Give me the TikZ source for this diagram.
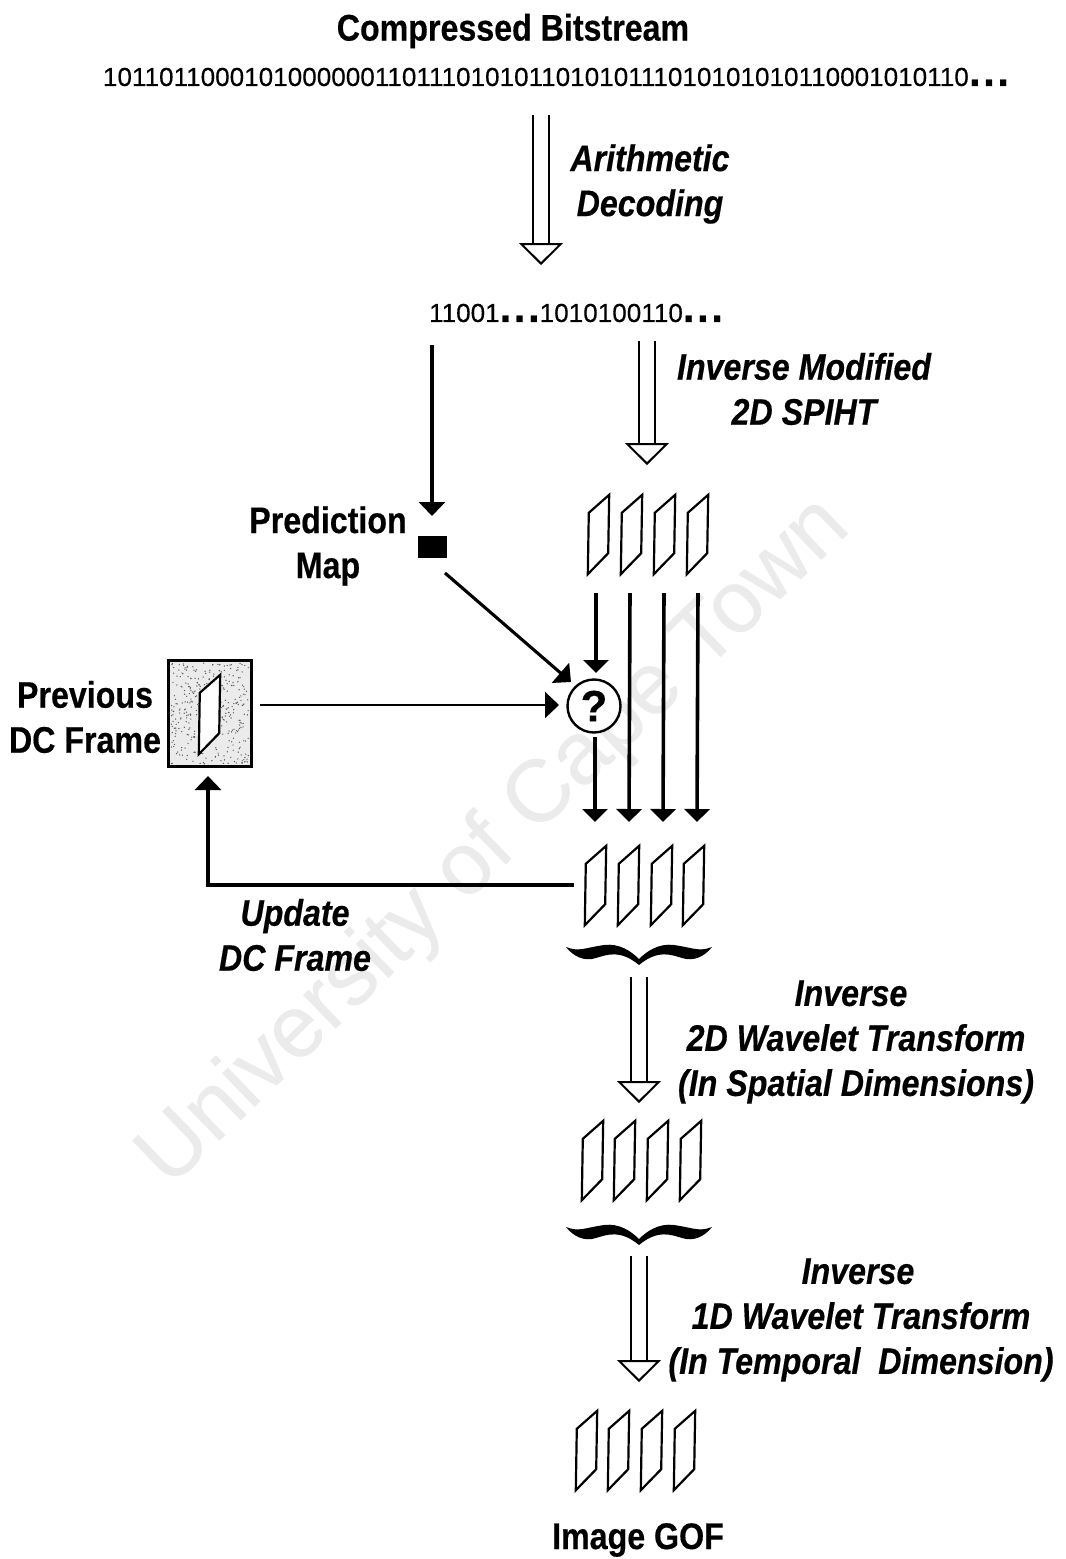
\documentclass[tikz,border=0pt]{standalone}
\usepackage{fontspec}
\setmainfont[FakeBold=0.25]{Liberation Sans}
\newfontfamily\lbl[FakeStretch=0.87,FakeBold=0.4]{Liberation Sans}
\usetikzlibrary{arrows.meta,calc}
\tikzset{
  boldlab/.style={font=\lbl\bfseries\fontsize{37}{45}\selectfont,align=center,inner sep=0pt,text=black},
  itlab/.style={font=\lbl\bfseries\itshape\fontsize{37}{45}\selectfont,align=center,inner sep=0pt,text=black},
  digits/.style={font=\fontsize{26.1}{30}\selectfont,inner sep=0pt,text=black},
  frm/.style={inner sep=0pt,minimum width=21pt,minimum height=79pt},
  frmline/.style={draw=black,line width=2.2pt,line join=miter,fill=white},
  heavy/.style={draw=black,line width=3.6pt,-{Triangle[length=13pt,width=25pt]}},
  medium/.style={draw=black,line width=3.1pt,-{Triangle[length=14pt,width=26pt]}},
  slim/.style={draw=black,line width=2.5pt,-{Triangle[length=14pt,width=26pt]}},
  hollow/.style={draw=black,line width=2pt,double=white,double distance=14pt,
    -{Triangle[fill=white,line width=2pt,length=22pt,width=44pt]}},
  brc/.style={fill=black,draw=none},
  watermark/.style={font=\fontsize{88}{88}\selectfont,text=black!8,rotate=44,inner sep=0pt}
}
\newcommand{\frmshape}[3]{%
  \node[frm] (#1) at (#2+10.5,#3-39.5) {};
  \draw[frmline] (#1.south west) -- ([shift={(1pt,-18pt)}]#1.north west) -- (#1.north east)
    -- ([shift={(-1pt,21pt)}]#1.south east) -- cycle;}
\newcommand{\bracedraw}[3]{%
  \coordinate (#1) at (#2,#3);
  \fill[brc] ($(#1)+(-73,-18)$) .. controls ($(#1)+(-66,-9)$) and ($(#1)+(-55,-3)$) .. ($(#1)+(-43,-7)$)
    .. controls ($(#1)+(-33,-10)$) and ($(#1)+(-19,-16)$) .. ($(#1)+(0,0)$)
    .. controls ($(#1)+(19,-16)$) and ($(#1)+(33,-10)$) .. ($(#1)+(43,-7)$)
    .. controls ($(#1)+(55,-3)$) and ($(#1)+(66,-9)$) .. ($(#1)+(73,-18)$)
    .. controls ($(#1)+(60,-13)$) and ($(#1)+(55,-17)$) .. ($(#1)+(35,-20)$)
    .. controls ($(#1)+(20,-22)$) and ($(#1)+(8,-14)$) .. ($(#1)+(0,-6)$)
    .. controls ($(#1)+(-8,-14)$) and ($(#1)+(-20,-22)$) .. ($(#1)+(-35,-20)$)
    .. controls ($(#1)+(-55,-17)$) and ($(#1)+(-60,-13)$) .. cycle;}
\newcommand{\tdots}{{\bfseries\fontsize{42}{30}\selectfont.\kern2.5pt.\kern2.5pt.}}
\begin{document}
\begin{tikzpicture}[x=1pt,y=-1pt]
\useasboundingbox (0,0) rectangle (1066,1559);
\fill[white] (0,0) rectangle (1066,1559);
\node[watermark] (wm) at (495,843) {University of Cape Town};

% texts
\node[boldlab] (title) at (513,31) {Compressed Bitstream};
\node[digits] (bits) at (556,77) {1011011000101000000110111010101101010111010101010110001010110\tdots};
\node[itlab] (arith) at (650,184) {Arithmetic\\Decoding};
\node[digits] (dec) at (576,313) {11001\tdots1010100110\tdots};
\node[itlab] (spiht) at (804,389) {Inverse Modified\\2D SPIHT};
\node[boldlab] (pmlabel) at (328,546) {Prediction\\Map};
\node[boldlab] (prevlabel) at (85,717) {Previous\\DC Frame};
\node[itlab] (updlabel) at (295,935) {Update\\DC Frame};
\node[itlab] (wt2d) at (856,1042) {\kern-10pt Inverse\\2D Wavelet Transform\\(In Spatial Dimensions)};
\node[itlab] (wt1d) at (861,1320) {\kern-6pt Inverse\\1D Wavelet Transform\\(In Temporal\ \ Dimension)};
\node[boldlab] (gof) at (638,1540) {Image GOF};

% frame groups
\frmshape{a1}{588}{574}\frmshape{a2}{621}{574}\frmshape{a3}{654}{574}\frmshape{a4}{687}{574}
\frmshape{b1}{585}{925}\frmshape{b2}{618}{925}\frmshape{b3}{651}{925}\frmshape{b4}{683}{925}
\frmshape{c1}{582}{1200}\frmshape{c2}{614}{1200}\frmshape{c3}{647}{1200}\frmshape{c4}{680}{1200}
\frmshape{d1}{576}{1490}\frmshape{d2}{608}{1490}\frmshape{d3}{641}{1490}\frmshape{d4}{674}{1490}

% previous DC frame box
\node[draw=black,line width=2.8pt,fill=black!8,inner sep=0pt,minimum width=83pt,minimum height=106pt] (prev) at (210,713.5) {};
\pgfmathsetseed{11}
\foreach \i in {1,...,380}{\fill[black!65] ({171+78*rnd},{663+101*rnd}) circle (0.7);}
\frmshape{pf}{199}{754}

% prediction map
\node[fill=black,inner sep=0pt,minimum width=29pt,minimum height=22pt] (pm) at (432.5,547) {};

% question node
\node[circle,draw=black,line width=2.4pt,fill=white,inner sep=0pt,minimum size=53pt,font=\bfseries\fontsize{44}{44}\selectfont] (q) at (594,706) {?};

% brace
\bracedraw{br1}{639}{965}
\bracedraw{br2}{639}{1245}

% connector end points
\coordinate (h1s) at (541,115); \coordinate (h1e) at (541,265);
\coordinate (h2s) at (647,341); \coordinate (h2e) at (647,465);
\coordinate (h3s) at (639,977); \coordinate (h3e) at (639,1103);
\coordinate (h4s) at (639,1256); \coordinate (h4e) at (639,1382);
\coordinate (pms) at (432,345); \coordinate (pme) at (432,516);
\coordinate (diags) at (445,573); \coordinate (diage) at (571,682);
\coordinate (hs) at (260,705); \coordinate (he) at (559,705);
\coordinate (q1s) at (596,593); \coordinate (q1e) at (596,673);
\coordinate (q2s) at (595,737); \coordinate (q2e) at (595,822);
\coordinate (l2s) at (630,593); \coordinate (l2e) at (629,822);
\coordinate (l3s) at (664,593); \coordinate (l3e) at (663,822);
\coordinate (l4s) at (698,593); \coordinate (l4e) at (697,822);
\coordinate (fbs) at (574,885); \coordinate (fbc) at (208,885); \coordinate (fbe) at (208,776);

% connectors
\draw[hollow] (h1s) -- (h1e);
\draw[hollow] (h2s) -- (h2e);
\draw[hollow] (h3s) -- (h3e);
\draw[hollow] (h4s) -- (h4e);
\draw[medium] (pms) -- (pme);
\draw[medium] (diags) -- (diage);
\draw[slim] (hs) -- (he);
\draw[heavy] (q1s) -- (q1e);
\draw[heavy] (q2s) -- (q2e);
\draw[heavy] (l2s) -- (l2e);
\draw[heavy] (l3s) -- (l3e);
\draw[heavy] (l4s) -- (l4e);
\draw[medium,line join=miter] (fbs) -- (fbc) -- (fbe);
\end{tikzpicture}
\end{document}
